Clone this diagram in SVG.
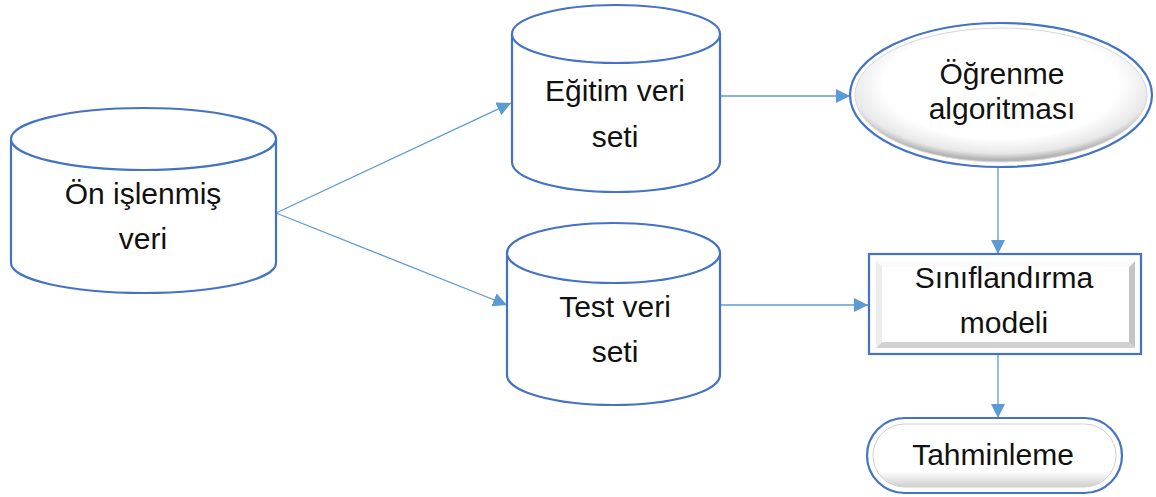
<svg xmlns="http://www.w3.org/2000/svg" width="1156" height="497" viewBox="0 0 1156 497">
<style>
.cyl{fill:#ffffff;stroke:#4472C4;stroke-width:2.2}
.lbl{font-family:"Liberation Sans",Arial,sans-serif;font-size:30px;fill:#111111;text-anchor:middle}
.conn{stroke:#5B9BD5;stroke-width:1.3;fill:none;marker-end:url(#ah)}
.outer{fill:#ffffff;stroke:#4472C4;stroke-width:2.2}
</style>
<defs>
<marker id="ah" viewBox="0 0 10 10" refX="10" refY="5" markerWidth="14" markerHeight="14" markerUnits="userSpaceOnUse" orient="auto">
<path d="M0,0 L10,5 L0,10 z" fill="#5B9BD5"/>
</marker>
<radialGradient id="eg" cx="0.5" cy="0.42" r="0.56">
<stop offset="0.72" stop-color="#ffffff"/>
<stop offset="0.92" stop-color="#e8e8e8"/>
<stop offset="1" stop-color="#b5b5b5"/>
</radialGradient>
<linearGradient id="pg" x1="0" y1="0" x2="0" y2="1">
<stop offset="0" stop-color="#ffffff"/>
<stop offset="0.75" stop-color="#ffffff"/>
<stop offset="1" stop-color="#cfcfcf"/>
</linearGradient>
</defs>
<rect width="1156" height="497" fill="#ffffff"/>
<g id="connectors">
<line class="conn" x1="276" y1="213" x2="511" y2="103"/>
<line class="conn" x1="276" y1="213" x2="507" y2="305"/>
<line class="conn" x1="720" y1="96" x2="850" y2="96"/>
<line class="conn" x1="720" y1="305" x2="868" y2="305"/>
<line class="conn" x1="998" y1="166" x2="998" y2="254"/>
<line class="conn" x1="998" y1="354" x2="998" y2="418"/>
</g>
<g id="n-onislenmis">
<path class="cyl" d="M11,139 L11,263 A132.5,30 0 0 0 276,263 L276,139"/>
<ellipse class="cyl" cx="143.5" cy="139" rx="132.5" ry="31"/>
<text class="lbl" x="143" y="204">Ön işlenmiş</text>
<text class="lbl" x="143" y="249">veri</text>
</g>
<g id="n-egitim">
<path class="cyl" d="M512,34 L512,162 A104,30 0 0 0 720,162 L720,34"/>
<ellipse class="cyl" cx="616" cy="34" rx="104" ry="29"/>
<text class="lbl" x="615" y="101">Eğitim veri</text>
<text class="lbl" x="615" y="147">seti</text>
</g>
<g id="n-test">
<path class="cyl" d="M507,253 L507,375 A106.5,30 0 0 0 720,375 L720,253"/>
<ellipse class="cyl" cx="613.5" cy="253" rx="106.5" ry="30"/>
<text class="lbl" x="615" y="317">Test veri</text>
<text class="lbl" x="615" y="362">seti</text>
</g>
<g id="n-ogrenme">
<ellipse class="outer" cx="1001" cy="95" rx="151" ry="72"/>
<ellipse cx="1001" cy="95" rx="146" ry="67" fill="url(#eg)" stroke="#d8d8d8" stroke-width="1"/>
<text class="lbl" x="1002" y="84">Öğrenme</text>
<text class="lbl" x="1002" y="119">algoritması</text>
</g>
<g id="n-siniflandirma">
<rect class="outer" x="869" y="254" width="272" height="100"/>
<rect x="876" y="261" width="259" height="87" fill="#f4f4f4"/>
<polygon points="1129,267 1135,261 1135,348 1129,342" fill="#c4c4c4"/>
<polygon points="882,342 1129,342 1135,348 876,348" fill="#d0d0d0"/>
<polygon points="876,261 1135,261 1129,267 882,267" fill="#fbfbfb"/>
<polygon points="876,261 882,267 882,342 876,348" fill="#ececec"/>
<rect x="882" y="267" width="247" height="75" fill="#ffffff"/>
<text class="lbl" x="1004" y="288">Sınıflandırma</text>
<text class="lbl" x="1004" y="333">modeli</text>
</g>
<g id="n-tahminleme">
<rect class="outer" x="867" y="418" width="255" height="75" rx="37.5" ry="37.5"/>
<rect x="873" y="424" width="243" height="63" rx="31.5" ry="31.5" fill="url(#pg)" stroke="#d0d0d0" stroke-width="1"/>
<text class="lbl" x="993" y="465">Tahminleme</text>
</g>
</svg>
